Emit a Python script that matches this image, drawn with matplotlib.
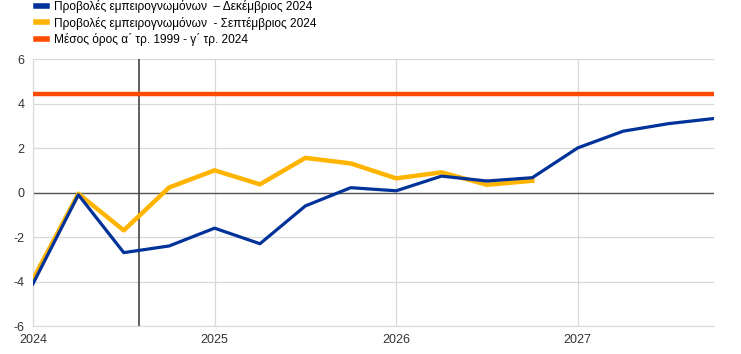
import matplotlib.pyplot as plt
import numpy as np

plt.rcParams['font.family'] = ['Liberation Sans', 'DejaVu Sans']
plt.rcParams['axes.unicode_minus'] = False

# quarterly points, 2024Q1 .. 2027Q4
quarters = np.arange(16)
dec_2024 = [-4.1, -0.1, -2.7, -2.4, -1.6, -2.3, -0.6, 0.22, 0.08, 0.74, 0.52, 0.67, 2.01, 2.76, 3.1, 3.33]
sep_2024 = [-3.9, -0.05, -1.7, 0.23, 1.0, 0.37, 1.56, 1.31, 0.64, 0.91, 0.35, 0.53]
avg_1999_2024 = 4.43
cutoff = 2.33

year_ticks = [0, 4, 8, 12]
year_labels = ['2024', '2025', '2026', '2027']

lbl_dec = 'Προβολές εμπειρογνωμόνων  – Δεκέμβριος 2024'
lbl_sep = 'Προβολές εμπειρογνωμόνων  - Σεπτέμβριος 2024'
lbl_avg = 'Μέσος όρος α΄ τρ. 1999 - γ΄ τρ. 2024'

fig = plt.figure(figsize=(7.41, 3.54), dpi=100)
ax = fig.add_axes([0.0445, 0.079, 0.919, 0.754])

ax.axhline(0, color='#555555', lw=1.0, zorder=2)
ax.axvline(cutoff, color='#444444', lw=1.2, zorder=2)

ax.plot(quarters, dec_2024, color='#003299', lw=2.3, zorder=5, label=lbl_dec)
ax.plot(quarters[:len(sep_2024)], sep_2024, color='#FFB400', lw=3.2, zorder=4, label=lbl_sep)
ax.axhline(avg_1999_2024, color='#FF4B00', lw=3.2, zorder=3, label=lbl_avg)

ax.set_xlim(0, 15)
ax.set_ylim(-6, 6)
ax.set_yticks(np.arange(-6, 7, 2))
ax.set_xticks(year_ticks)
ax.set_xticklabels(year_labels)
ax.grid(True, color='#d9d9d9', lw=0.9, zorder=0)
ax.set_axisbelow(True)
for s in ['top', 'right']:
    ax.spines[s].set_visible(False)
ax.spines['left'].set_color('#d9d9d9')
ax.spines['bottom'].set_color('#d9d9d9')
ax.tick_params(length=0, labelsize=9, colors='#333333', pad=6)

leg = fig.legend(loc='upper left', bbox_to_anchor=(0.039, 1.02), frameon=False,
                 fontsize=8.6, handlelength=0.9, handletextpad=0.6, labelspacing=0.3,
                 borderaxespad=0.2)
for h in leg.get_lines():
    h.set_linewidth(4)

fig.savefig('out.png', dpi=100)
